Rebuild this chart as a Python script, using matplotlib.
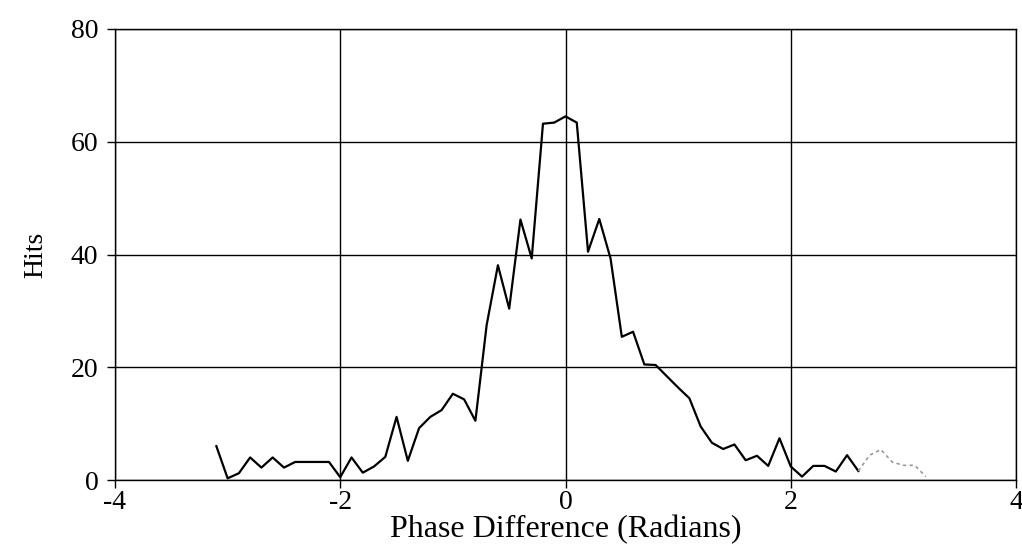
import matplotlib
matplotlib.use("Agg")
import matplotlib.pyplot as plt
import numpy as np

phase = [-3.1, -3.0, -2.9, -2.8, -2.7, -2.6, -2.5, -2.4, -2.3, -2.2, -2.1, -2.0,
         -1.9, -1.8, -1.7, -1.6, -1.5, -1.4, -1.3, -1.2, -1.1, -1.0, -0.9, -0.8,
         -0.7, -0.6, -0.5, -0.4, -0.3, -0.2, -0.1, 0.0, 0.1, 0.2, 0.3, 0.4,
         0.5, 0.6, 0.7, 0.8, 0.9, 1.0, 1.1, 1.2, 1.3, 1.4, 1.5, 1.6,
         1.7, 1.8, 1.9, 2.0, 2.1, 2.2, 2.3, 2.4, 2.5, 2.6, 2.7, 2.8,
         2.9, 3.0, 3.1, 3.2]
hits = [6.0, 0.3, 1.2, 4.0, 2.2, 4.0, 2.2, 3.2, 3.2, 3.2, 3.2, 0.5,
        4.0, 1.3, 2.4, 4.1, 11.2, 3.4, 9.2, 11.2, 12.4, 15.3, 14.3, 10.5,
        27.5, 38.1, 30.4, 46.2, 39.3, 63.2, 63.4, 64.5, 63.4, 40.5, 46.3, 39.3,
        25.4, 26.3, 20.5, 20.4, 18.4, 16.4, 14.5, 9.5, 6.6, 5.5, 6.3, 3.5,
        4.3, 2.5, 7.4, 2.4, 0.6, 2.5, 2.5, 1.5, 4.4, 1.6, 4.4, 5.4,
        3.2, 2.6, 2.6, 0.6]

xticks = [-4, -2, 0, 2, 4]
xticklabels = ["-4", "-2", "0", "2", "4"]
yticks = [0, 20, 40, 60, 80]
yticklabels = ["0", "20", "40", "60", "80"]

plt.rcParams['font.family'] = ['Liberation Serif', 'DejaVu Serif']

fig = plt.figure(figsize=(10.22, 5.5), dpi=100)
ax = fig.add_axes([115/1022, 1 - 480/550, (1016 - 115)/1022, (480 - 29)/550])

split = phase.index(2.6)
ax.plot(phase[:split + 1], hits[:split + 1], color='black', lw=1.6, zorder=3)
ax.plot(phase[split:], hits[split:], color='#999999', lw=1.2, ls=(0, (2, 2)), zorder=3)

ax.set_xlim(-4, 4)
ax.set_ylim(0, 80)
ax.set_xticks(xticks)
ax.set_xticklabels(xticklabels)
ax.set_yticks(yticks)
ax.set_yticklabels(yticklabels)
ax.grid(True, color='black', lw=1.0)
ax.set_axisbelow(True)
for s in ax.spines.values():
    s.set_color('black')
    s.set_linewidth(1.0)
ax.tick_params(direction='out', length=6, width=1.0, labelsize=20, colors='black')
ax.tick_params(axis='y', pad=6)
ax.tick_params(axis='x', pad=1)
ax.set_xlabel("Phase Difference (Radians)", fontsize=23, labelpad=0)
ax.set_ylabel("Hits", fontsize=20, labelpad=16)

fig.savefig("out.png", dpi=100)
